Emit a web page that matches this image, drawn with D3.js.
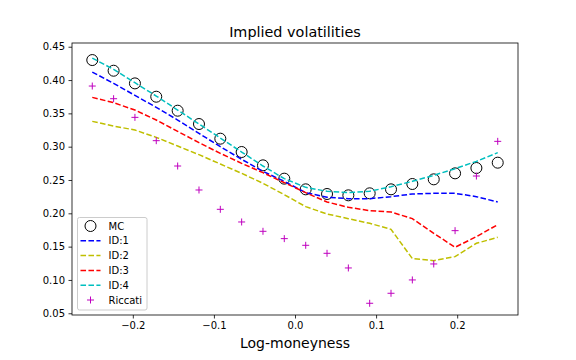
<!DOCTYPE html>
<html lang="en">
<head>
<meta charset="UTF-8">
<script src="https://d3js.org/d3.v7.min.js"></script>
<style>
  body { margin: 0; background: #fff; }
  svg text { font-family: "DejaVu Sans", sans-serif; }
</style>
</head>
<body>
<div id="chart"></div>
<script>
// log-moneyness grid (20 points from -0.25 to 0.25)
var moneyness = [-0.25, -0.2237, -0.1974, -0.1711, -0.1447, -0.1184, -0.0921, -0.0658, -0.0395, -0.0132,
                 0.0132, 0.0395, 0.0658, 0.0921, 0.1184, 0.1447, 0.1711, 0.1974, 0.2237, 0.25];

var mc      = [0.430, 0.414, 0.395, 0.375, 0.354, 0.334, 0.312, 0.292, 0.272, 0.252,
               0.236, 0.229, 0.227, 0.230, 0.236, 0.244, 0.251, 0.260, 0.268, 0.276];
var id1     = [0.412, 0.395, 0.377, 0.359, 0.340, 0.320, 0.300, 0.281, 0.263, 0.248,
               0.231, 0.224, 0.222, 0.222, 0.225, 0.229, 0.230, 0.230, 0.225, 0.217];
var id2     = [0.338, 0.331, 0.325, 0.314, 0.301, 0.288, 0.274, 0.260, 0.245, 0.228,
               0.210, 0.199, 0.192, 0.185, 0.176, 0.132, 0.129, 0.135, 0.155, 0.164];
var id3     = [0.374, 0.366, 0.355, 0.340, 0.323, 0.306, 0.290, 0.275, 0.261, 0.246,
               0.231, 0.217, 0.209, 0.204, 0.202, 0.192, 0.170, 0.149, 0.165, 0.183];
var id4     = [0.433, 0.416, 0.396, 0.376, 0.355, 0.334, 0.313, 0.292, 0.271, 0.252,
               0.239, 0.233, 0.231, 0.233, 0.240, 0.248, 0.257, 0.267, 0.278, 0.291];
var riccati = [0.391, 0.372, 0.344, 0.309, 0.271, 0.235, 0.206, 0.187, 0.173, 0.162,
               0.152, 0.140, 0.118, 0.065, 0.080, 0.100, 0.124, 0.174, 0.256, 0.308];

var xTicks = [-0.2, -0.1, 0.0, 0.1, 0.2];
var yTicks = [0.05, 0.10, 0.15, 0.20, 0.25, 0.30, 0.35, 0.40, 0.45];

var lineSeries = [
  {name: "ID:1", values: id1, color: "#0000ff"},
  {name: "ID:2", values: id2, color: "#bfbf00"},
  {name: "ID:3", values: id3, color: "#ff0000"},
  {name: "ID:4", values: id4, color: "#00bfbf"}
];

var W = 576, H = 360;
var margin = {top: 43, right: 58, bottom: 45, left: 72};
var width = W - margin.left - margin.right,
    height = H - margin.top - margin.bottom;

var svg = d3.select("#chart").append("svg")
    .attr("width", W).attr("height", H);
var g = svg.append("g")
    .attr("transform", "translate(" + margin.left + "," + margin.top + ")");

var x = d3.scaleLinear().domain([-0.275, 0.275]).range([0, width]);
var y = d3.scaleLinear().domain([0.0474, 0.4556]).range([height, 0]);

var fmtX = function(d) { return (d < 0 ? "\u2212" : "") + Math.abs(d).toFixed(1); };

// axes
var xAxis = g.append("g")
    .attr("transform", "translate(0," + height + ")")
    .call(d3.axisBottom(x).tickValues(xTicks).tickFormat(fmtX).tickSize(3.5).tickPadding(3.5));
var yAxis = g.append("g")
    .call(d3.axisLeft(y).tickValues(yTicks).tickFormat(d3.format(".2f")).tickSize(3.5).tickPadding(3.5));
[xAxis, yAxis].forEach(function(a) {
  a.selectAll("text").style("font-size", "10px").attr("fill", "#000");
  a.selectAll("line").attr("stroke", "#000").attr("stroke-width", 0.8);
  a.select(".domain").remove();
});

var clip = g.append("g");

// dashed model lines
var line = d3.line()
  .x(function(d, i) { return x(moneyness[i]); })
  .y(function(d) { return y(d); });

// MC circles drawn first, lines over them
clip.selectAll("circle.mc")
  .data(mc).enter().append("circle")
    .attr("class", "mc")
    .attr("cx", function(d, i) { return x(moneyness[i]); })
    .attr("cy", function(d) { return y(d); })
    .attr("r", 5.5)
    .attr("fill", "none")
    .attr("stroke", "#000")
    .attr("stroke-width", 1);

lineSeries.forEach(function(s) {
  clip.append("path")
    .datum(s.values)
    .attr("d", line)
    .attr("fill", "none")
    .attr("stroke", s.color)
    .attr("stroke-width", 1.5)
    .attr("stroke-dasharray", "5.55,2.4");
});

// Riccati markers
clip.selectAll("path.ric")
  .data(riccati).enter().append("path")
    .attr("class", "ric")
    .attr("transform", function(d, i) { return "translate(" + x(moneyness[i]) + "," + y(d) + ")"; })
    .attr("d", "M-3.5,0H3.5M0,-3.5V3.5")
    .attr("stroke", "#bf00bf")
    .attr("stroke-width", 1);

// frame
g.append("rect")
  .attr("width", width).attr("height", height)
  .attr("fill", "none").attr("stroke", "#000").attr("stroke-width", 0.8);

// title & label
svg.append("text")
  .attr("x", margin.left + width / 2).attr("y", 37)
  .attr("text-anchor", "middle")
  .style("font-size", "14.4px")
  .text("Implied volatilities");
svg.append("text")
  .attr("x", margin.left + width / 2).attr("y", 348)
  .attr("text-anchor", "middle")
  .style("font-size", "14px")
  .text("Log-moneyness");

// legend
var leg = g.append("g").attr("transform", "translate(5.5,174.5)");
leg.append("rect")
  .attr("width", 69.5).attr("height", 92.5)
  .attr("rx", 2).attr("ry", 2)
  .attr("fill", "#fff").attr("fill-opacity", 0.8)
  .attr("stroke", "#cccccc").attr("stroke-width", 1);

var items = [{name: "MC", type: "mc"}]
  .concat(lineSeries.map(function(s) { return {name: s.name, type: "line", color: s.color}; }))
  .concat([{name: "Riccati", type: "ric"}]);

items.forEach(function(it, i) {
  var cy = 8.5 + i * 14.8;
  var row = leg.append("g").attr("transform", "translate(0," + cy + ")");
  if (it.type === "mc") {
    row.append("circle").attr("cx", 13).attr("cy", 0).attr("r", 5.5)
      .attr("fill", "none").attr("stroke", "#000");
  } else if (it.type === "line") {
    row.append("line").attr("x1", 3).attr("x2", 23).attr("y1", 0).attr("y2", 0)
      .attr("stroke", it.color).attr("stroke-width", 1.5)
      .attr("stroke-dasharray", "5.55,2.4");
  } else {
    row.append("path").attr("d", "M9.5,0H16.5M13,-3.5V3.5")
      .attr("stroke", "#bf00bf").attr("stroke-width", 1);
  }
  row.append("text").attr("x", 31).attr("y", 3.6)
    .style("font-size", "10px")
    .text(it.name);
});
</script>
</body>
</html>
